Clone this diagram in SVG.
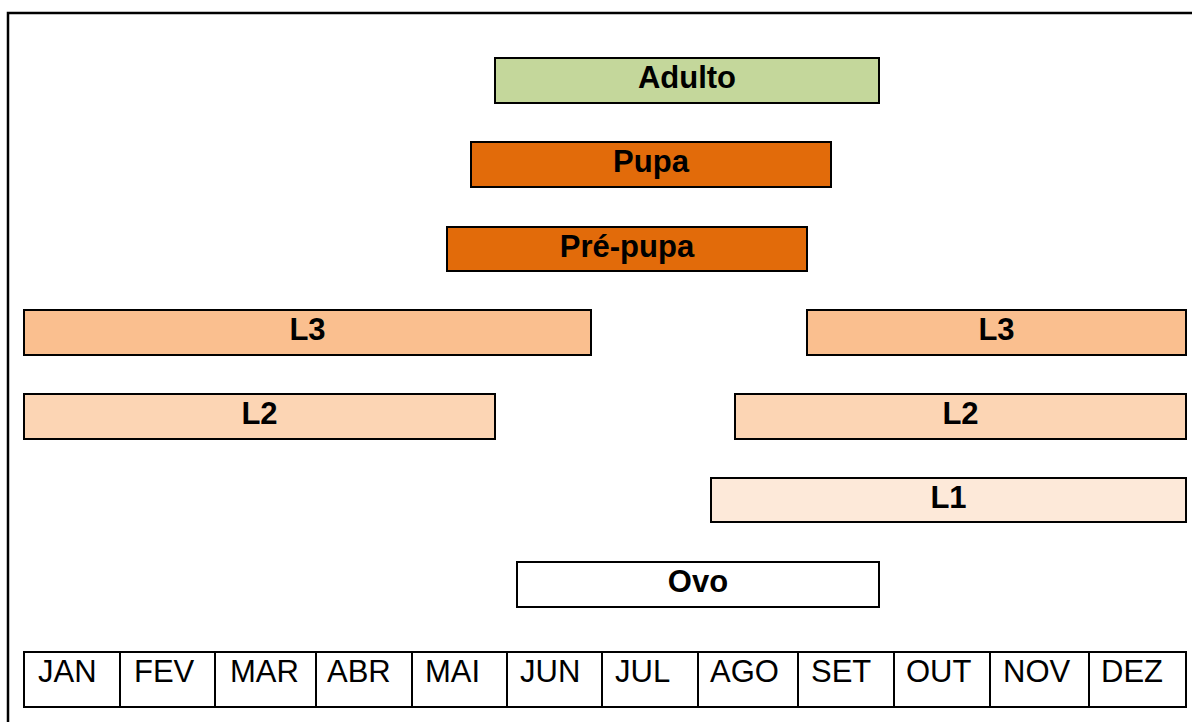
<svg xmlns="http://www.w3.org/2000/svg" width="1192" height="722" viewBox="0 0 1192 722">
<style>
.bar{stroke:#000;stroke-width:2}
.lbl{font-family:"Liberation Sans",Arial,sans-serif;font-weight:bold;font-size:31px;text-anchor:middle;fill:#000}
.cell{fill:#fff;stroke:#000;stroke-width:2}
.mon{font-family:"Liberation Sans",Arial,sans-serif;font-size:31px;fill:#000}
</style>
<rect width="1192" height="722" fill="#fff"/>
<g id="frame"><path d="M8 722 V13 H1192" fill="none" stroke="#000" stroke-width="2.5"/></g>
<g id="connectors"></g>
<g id="adulto"><rect class="bar" x="495" y="58" width="384" height="45" fill="#C4D79B"/><text class="lbl" x="687" y="88">Adulto</text></g>
<g id="pupa"><rect class="bar" x="471" y="142" width="360" height="45" fill="#E26B0A"/><text class="lbl" x="651" y="172">Pupa</text></g>
<g id="prepupa"><rect class="bar" x="447" y="227" width="360" height="44" fill="#E26B0A"/><text class="lbl" x="627" y="257">Pré-pupa</text></g>
<g id="l3a"><rect class="bar" x="24" y="310" width="567" height="45" fill="#FABF8F"/><text class="lbl" x="307.5" y="340">L3</text></g>
<g id="l3b"><rect class="bar" x="807" y="310" width="379" height="45" fill="#FABF8F"/><text class="lbl" x="996.5" y="340">L3</text></g>
<g id="l2a"><rect class="bar" x="24" y="394" width="471" height="45" fill="#FCD5B4"/><text class="lbl" x="259.5" y="424">L2</text></g>
<g id="l2b"><rect class="bar" x="735" y="394" width="451" height="45" fill="#FCD5B4"/><text class="lbl" x="960.5" y="424">L2</text></g>
<g id="l1"><rect class="bar" x="711" y="478" width="475" height="44" fill="#FDE9D9"/><text class="lbl" x="948.5" y="508">L1</text></g>
<g id="ovo"><rect class="bar" x="517" y="562" width="362" height="45" fill="#FFFFFF"/><text class="lbl" x="698" y="592">Ovo</text></g>
<g id="months">
<rect class="cell" x="24" y="652" width="1162" height="55"/>
<path d="M120 652V707M215 652V707M316 652V707M412 652V707M507 652V707M602 652V707M698 652V707M798 652V707M894 652V707M990 652V707M1089 652V707" stroke="#000" stroke-width="2"/>
<text class="mon" x="38" y="682">JAN</text>
<text class="mon" x="134" y="682">FEV</text>
<text class="mon" x="230" y="682">MAR</text>
<text class="mon" x="327" y="682">ABR</text>
<text class="mon" x="425" y="682">MAI</text>
<text class="mon" x="520" y="682">JUN</text>
<text class="mon" x="615" y="682">JUL</text>
<text class="mon" x="710" y="682">AGO</text>
<text class="mon" x="811" y="682">SET</text>
<text class="mon" x="906" y="682">OUT</text>
<text class="mon" x="1003" y="682">NOV</text>
<text class="mon" x="1101" y="682">DEZ</text>
</g>
</svg>
